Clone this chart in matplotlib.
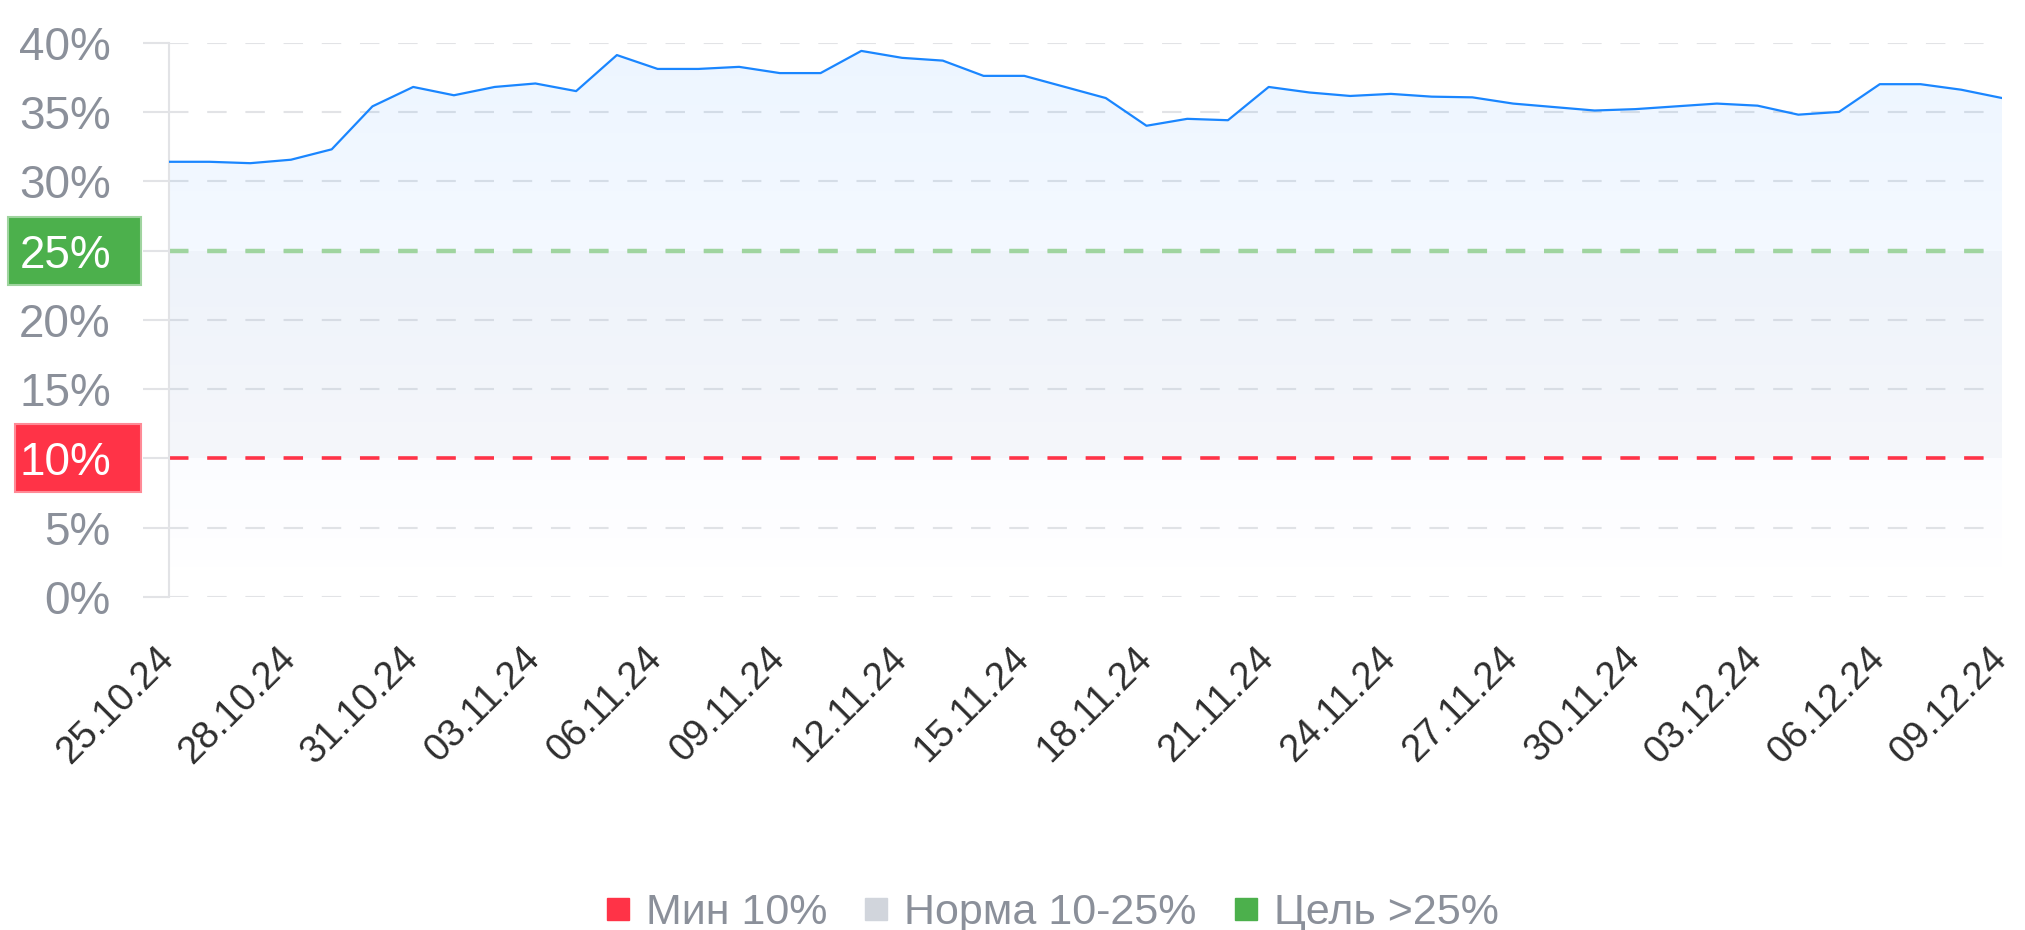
import matplotlib
matplotlib.use('Agg')
import matplotlib.pyplot as plt
import matplotlib.transforms as mtransforms
from matplotlib.patches import Rectangle, Polygon
from matplotlib.lines import Line2D
import numpy as np
import pandas as pd

plt.rcParams['font.family'] = ['Liberation Sans', 'DejaVu Sans']
plt.rcParams['lines.scale_dashes'] = False

# ---- data ----
dates = pd.date_range('2024-10-25', '2024-12-09', freq='D')
values = [31.4, 31.4, 31.3, 31.55, 32.3, 35.4, 36.8, 36.2, 36.8, 37.05,
          36.5, 39.1, 38.1, 38.1, 38.25, 37.8, 37.8, 39.4, 38.9, 38.7,
          37.6, 37.6, 36.8, 36.0, 34.0, 34.5, 34.4, 36.8, 36.4, 36.15,
          36.3, 36.1, 36.05, 35.6, 35.35, 35.1, 35.2, 35.4, 35.6, 35.45,
          34.8, 35.0, 37.0, 37.0, 36.6, 36.0]
y_ticks = [0, 5, 10, 15, 20, 25, 30, 35, 40]
min_level = 10
goal_level = 25
legend_labels = ['Мин 10%', 'Норма 10-25%', 'Цель >25%']

# ---- style ----
C_LINE = '#1a86ff'
C_RED = '#ff3347'
C_GREEN = '#4cb04c'
C_GREY = '#d1d5dc'
C_GRID = '#e2e3e6'
C_TICK = '#8b909a'
FS_Y = 33
FS_X = 27.5
FS_L = 31

W, H, DPI = 2025, 930, 100
fig = plt.figure(figsize=(W / DPI, H / DPI), dpi=DPI)
L, R, B, T = 168.75, 2002, 597, 42.6
ax = fig.add_axes([L / W, (H - B) / H, (R - L) / W, (B - T) / H])

x = np.arange(len(values))
n = len(values) - 1
ax.set_xlim(0, n)
ax.set_ylim(0, 40)

# gradient area under the line
grad = np.zeros((256, 1, 4))
grad[..., 0] = 0 / 255
grad[..., 1] = 122 / 255
grad[..., 2] = 1.0
grad[..., 3] = np.linspace(0.075, 0.0, 256)[:, None]
im = ax.imshow(grad, extent=[0, n, 0, 40], aspect='auto', origin='upper',
               zorder=1, interpolation='bilinear')
verts = [(0, 0)] + list(zip(x, values)) + [(n, 0)]
clip = Polygon(verts, closed=True, transform=ax.transData)
im.set_clip_path(clip)

# grey "norm" band
ax.fill_between(x, min_level, np.minimum(values, goal_level), color='#c9ccd8',
                alpha=0.12, lw=0, zorder=1.1)

# threshold lines
ax.axhline(goal_level, color='#9fd49f', lw=3.2, dashes=(14, 13.5), zorder=2)
ax.axhline(min_level, color=C_RED, lw=2.6, dashes=(14, 13.5), zorder=2)

# data line
ax.plot(x, values, color=C_LINE, lw=1.6, zorder=3, solid_joinstyle='round')

# grid / axes styling
ax.set_axisbelow(True)
ax.yaxis.grid(True, color=C_GRID, lw=1.5, dashes=(14, 13.5))
ax.set_yticks(y_ticks)
ylabels = ['' if v in (min_level, goal_level) else f'{v}%' for v in y_ticks]
ax.set_yticklabels(ylabels)
ax.tick_params(axis='y', length=18.7, width=1.5, color=C_GRID, pad=23,
               labelsize=FS_Y, labelcolor=C_TICK)
for s in ['top', 'right', 'bottom']:
    ax.spines[s].set_visible(False)
ax.spines['left'].set_color(C_GRID)
ax.spines['left'].set_linewidth(1.5)

xt = x[::3]
ax.set_xticks(xt)
ax.set_xticklabels([d.strftime('%d.%m.%y') for d in dates[::3]])
ax.tick_params(axis='x', length=0, pad=31, labelsize=FS_X, labelcolor='#2e2e2e')
off = mtransforms.ScaledTranslation(12 / DPI, 0, fig.dpi_scale_trans)
for lab in ax.get_xticklabels():
    lab.set_rotation(45)
    lab.set_ha('right')
    lab.set_va('top')
    lab.set_transform(lab.get_transform() + off)

# highlighted labels for thresholds
blend = mtransforms.blended_transform_factory(fig.transFigure, ax.transData)
box_h = 68 / ((B - T) / 40)
for lvl, col, edge, x0 in [(goal_level, C_GREEN, '#9fd49f', 8), (min_level, C_RED, '#ff8a96', 15)]:
    rect = Rectangle((x0 / W, lvl - box_h / 2), (141 - x0) / W, box_h,
                     transform=blend, facecolor=col, edgecolor=edge, lw=1.5,
                     clip_on=False, zorder=5)
    ax.add_patch(rect)
    ax.text(111 / W, lvl, f'{lvl}%', transform=blend, ha='right',
            va='center_baseline', fontsize=FS_Y, color='white', zorder=6,
            clip_on=False)

# legend
handles = [Line2D([], [], ls='none', marker='s', markersize=16, color=c)
           for c in (C_RED, C_GREY, C_GREEN)]
leg = fig.legend(handles, legend_labels, loc='center', ncol=3,
                 bbox_to_anchor=(1053 / W, 17 / H), frameon=False,
                 fontsize=FS_L, handlelength=0.5, handletextpad=0.4,
                 columnspacing=0.9, borderpad=0)
for t in leg.get_texts():
    t.set_color(C_TICK)

fig.savefig('out.png', dpi=DPI)
